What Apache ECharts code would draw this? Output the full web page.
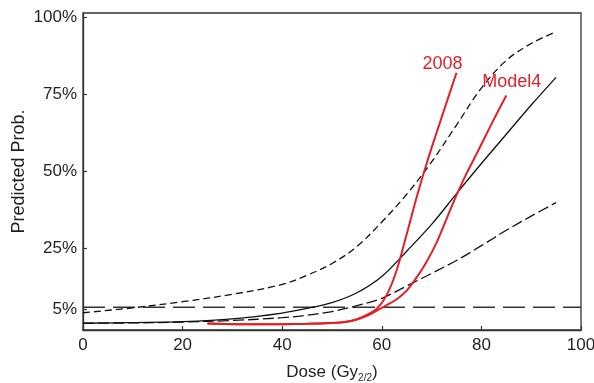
<!DOCTYPE html>
<html>
<head>
<meta charset="utf-8">
<script src="https://cdn.jsdelivr.net/npm/echarts@6/dist/echarts.min.js"></script>
<style>
html,body{margin:0;padding:0;background:#fff;}
#chart{width:594px;height:383px;}
</style>
</head>
<body>
<div id="chart"></div>
<script>
// ---- data ----
const xTicks = [0, 20, 40, 60, 80, 100];
const yTickValues = [5, 25, 50, 75, 100];

const doseGrid   = [0, 10, 20, 30, 40, 45, 50, 55, 60, 65, 70, 75, 80, 85, 90, 95];
const probMedian = [0.6, 0.8, 1.1, 2.0, 3.9, 5.4, 7.3, 10.5, 15.8, 24.0, 32.7, 42.7, 52.5, 62, 71.5, 80.5];
const probUpper  = [4.0, 5.6, 7.6, 10.0, 13.2, 16.2, 20.0, 25.5, 33.5, 42.5, 53, 65, 77, 86, 91.5, 95.3];
const probLower  = [0.6, 0.7, 1.0, 1.5, 2.4, 3.2, 4.4, 6.3, 8.7, 12.7, 16.8, 21, 25.8, 30.8, 35.4, 39.8];

const thresholdDose = [0, 100];
const thresholdProb = [5.8, 5.8];

const dose2008 = [25, 35, 45, 50, 53, 55, 57, 59, 61, 63, 65, 67, 69, 71, 73, 75];
const prob2008 = [0.55, 0.25, 0.4, 0.7, 1.1, 1.9, 3.3, 5.3, 9.8, 17.9, 29.5, 41.5, 52.5, 62.5, 72.3, 82];

const doseModel4 = [25, 35, 45, 50, 53, 55, 57, 59, 61, 63, 65, 67, 69, 71, 73, 75, 77, 79, 81, 83, 85];
const probModel4 = [0.55, 0.25, 0.4, 0.7, 1.1, 1.8, 3.0, 4.7, 6.5, 8.4, 11.2, 15.5, 20.6, 26.8, 34.5, 42.2, 49.2, 55.5, 62, 68.4, 74.6];

const label2008 = '2008';
const labelModel4 = 'Model4';

// ---- helpers ----
const zip = (xs, ys) => xs.map((x, i) => [x, ys[i]]);
const textColor = '#231f20';
const red = '#e3202a';
const font = 'Liberation Sans, Arial, Helvetica, sans-serif';

const chart = echarts.init(document.getElementById('chart'), null, {renderer: 'canvas'});
chart.setOption({
  animation: false,
  textStyle: {fontFamily: font},
  grid: {left: 83, right: 13, top: 13, bottom: 53, show: true, borderColor: '#333', borderWidth: 1.3,
    backgroundColor: 'transparent', containLabel: false, outerBoundsMode: 'none'},
  xAxis: {
    type: 'value', min: xTicks[0], max: xTicks[xTicks.length - 1], interval: 20,
    name: 'Dose (Gy{s|2/2})', nameLocation: 'middle', nameGap: 31, nameMoveOverlap: false,
    nameTextStyle: {fontSize: 17, color: textColor, fontFamily: font,
      rich: {s: {fontSize: 10, color: textColor, fontFamily: font, padding: [12, 0, 0, 0]}}},
    axisLine: {onZero: false, lineStyle: {color: '#333', width: 1.3}},
    axisTick: {inside: true, length: 4, lineStyle: {color: '#333', width: 1.2}},
    axisLabel: {fontSize: 17, color: textColor, margin: 7, fontFamily: font},
    splitLine: {show: false}
  },
  yAxis: {
    type: 'value', min: -1.6, max: 101.4,
    name: 'Predicted Prob.', nameLocation: 'middle', nameGap: 55, nameMoveOverlap: false,
    nameTextStyle: {fontSize: 18, color: textColor, fontFamily: font},
    axisLine: {show: true, onZero: false, lineStyle: {color: '#333', width: 1.3}},
    axisTick: {show: true, inside: true, length: 4, customValues: yTickValues, lineStyle: {color: '#333', width: 1.2}},
    axisLabel: {fontSize: 17, color: textColor, margin: 6, customValues: yTickValues, formatter: '{value}%', fontFamily: font},
    splitLine: {show: false}
  },
  series: [
    {type: 'line', data: zip(thresholdDose, thresholdProb), symbol: 'none', silent: true,
      lineStyle: {color: '#333', width: 1.3, type: [22, 8]}},
    {type: 'line', data: zip(doseGrid, probLower), symbol: 'none', smooth: 0.35, silent: true,
      lineStyle: {color: '#111', width: 1.3, type: [11, 4]}},
    {type: 'line', data: zip(doseGrid, probUpper), symbol: 'none', smooth: 0.35, silent: true,
      lineStyle: {color: '#111', width: 1.3, type: [7, 4]}},
    {type: 'line', data: zip(doseGrid, probMedian), symbol: 'none', smooth: 0.35, silent: true,
      lineStyle: {color: '#111', width: 1.3}},
    {type: 'line', data: zip(dose2008, prob2008), symbol: 'none', smooth: 0.3, silent: true,
      lineStyle: {color: red, width: 2},
      endLabel: {show: true, formatter: label2008, color: red, fontSize: 18, fontFamily: font, offset: [-42, -9]}},
    {type: 'line', data: zip(doseModel4, probModel4), symbol: 'none', smooth: 0.3, silent: true,
      lineStyle: {color: red, width: 2},
      endLabel: {show: true, formatter: labelModel4, color: red, fontSize: 18, fontFamily: font, offset: [-32, -13]}}
  ]
});
</script>
</body>
</html>
